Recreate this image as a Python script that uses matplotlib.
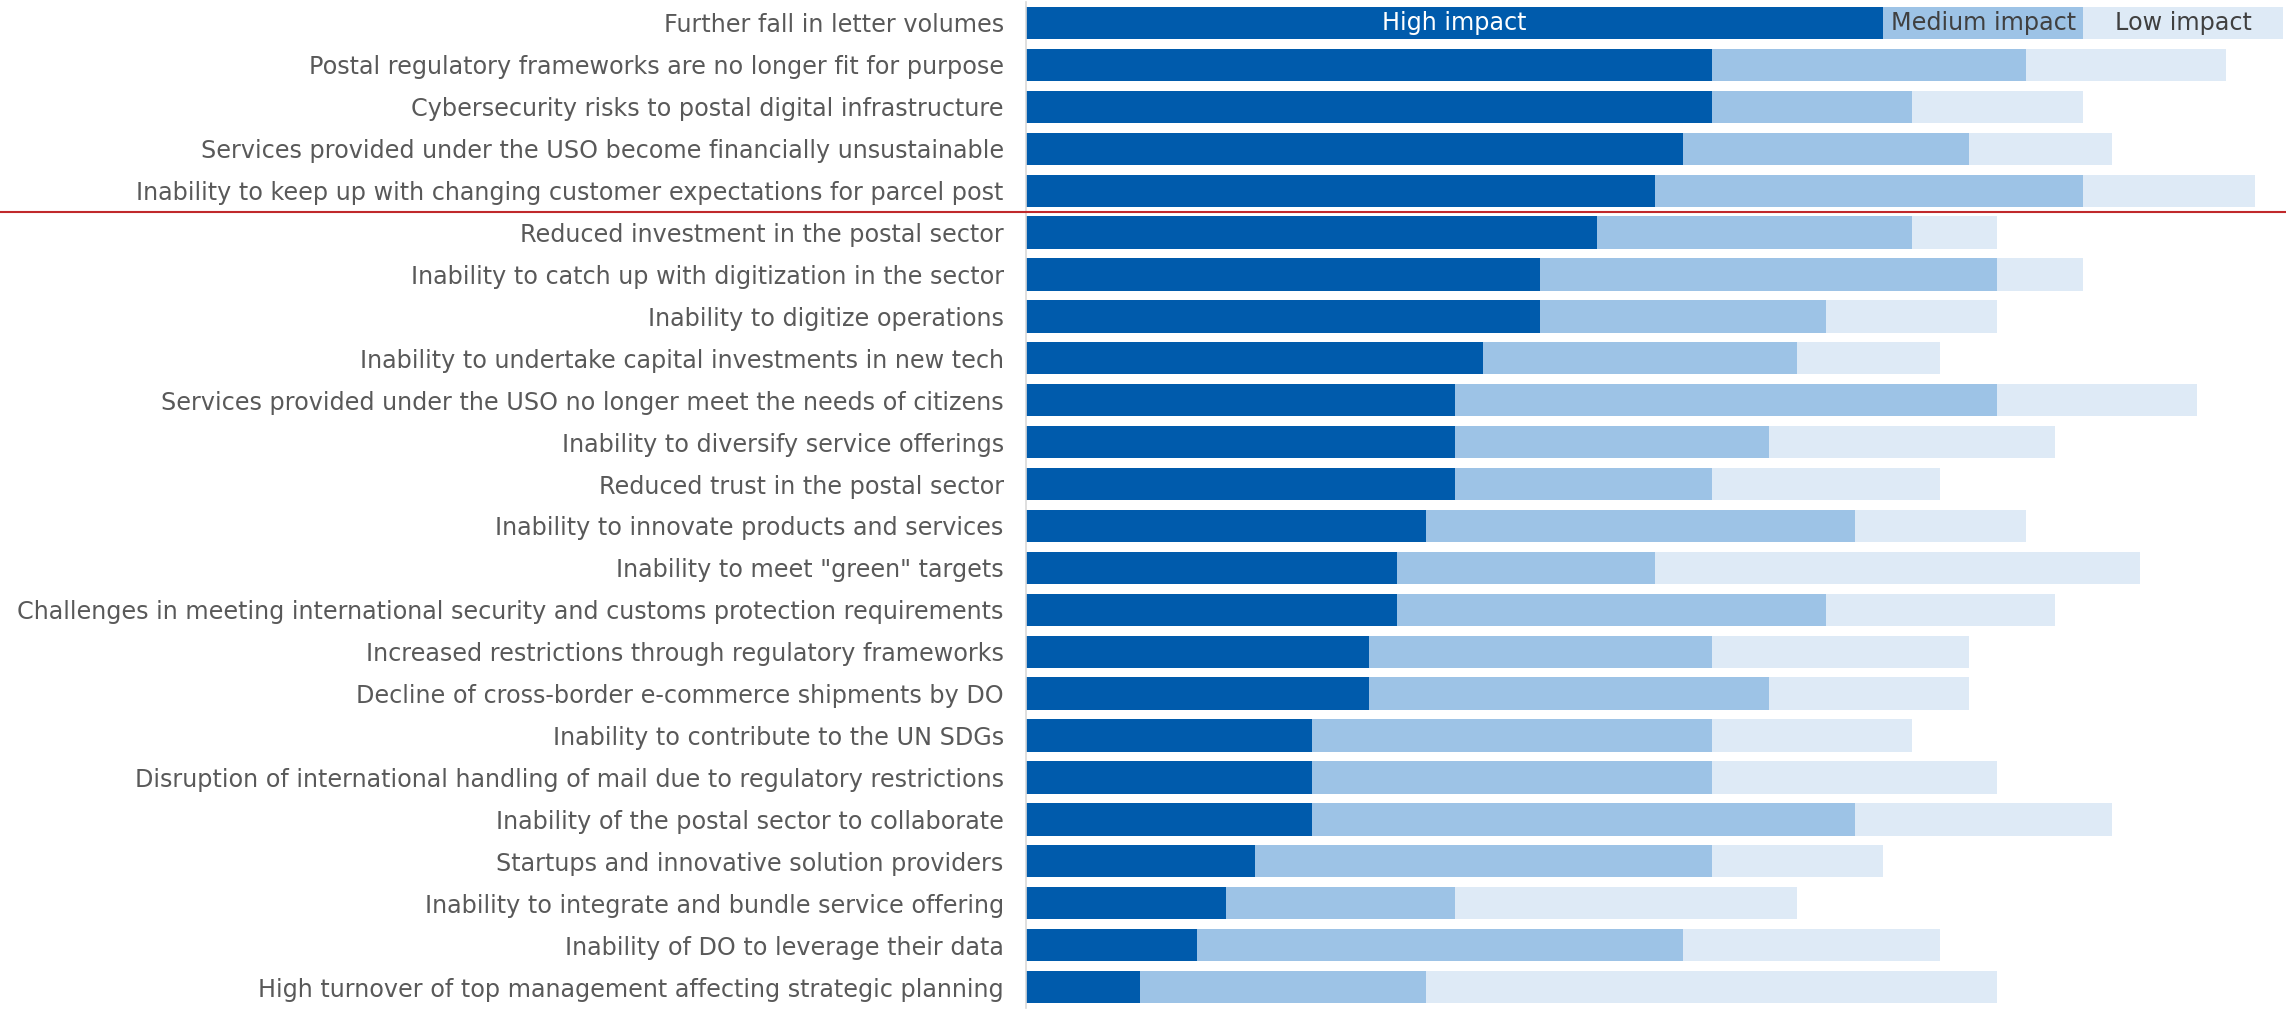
import matplotlib
matplotlib.use('Agg')
import matplotlib.pyplot as plt
from matplotlib.lines import Line2D
from matplotlib.transforms import blended_transform_factory
import numpy as np

# Survey counts per risk
risks = [
    'Further fall in letter volumes',
    'Postal regulatory frameworks are no longer fit for purpose',
    'Cybersecurity risks to postal digital infrastructure',
    'Services provided under the USO become financially unsustainable',
    'Inability to keep up with changing customer expectations for parcel post',
    'Reduced investment in the postal sector',
    'Inability to catch up with digitization in the sector',
    'Inability to digitize operations',
    'Inability to undertake capital investments in new tech',
    'Services provided under the USO no longer meet the needs of citizens',
    'Inability to diversify service offerings',
    'Reduced trust in the postal sector',
    'Inability to innovate products and services',
    'Inability to meet "green" targets',
    'Challenges in meeting international security and customs protection requirements',
    'Increased restrictions through regulatory frameworks',
    'Decline of cross-border e-commerce shipments by DO',
    'Inability to contribute to the UN SDGs',
    'Disruption of international handling of mail due to regulatory restrictions',
    'Inability of the postal sector to collaborate',
    'Startups and innovative solution providers',
    'Inability to integrate and bundle service offering',
    'Inability of DO to leverage their data',
    'High turnover of top management affecting strategic planning',
]
high = [30, 24, 24, 23, 22, 20, 18, 18, 16, 15, 15, 15, 14, 13, 13, 12, 12, 10, 10, 10, 8, 7, 6, 4]
medium = [7, 11, 7, 10, 15, 11, 16, 10, 11, 19, 11, 9, 15, 9, 15, 12, 14, 14, 14, 19, 16, 8, 17, 10]
low = [7, 7, 6, 5, 6, 3, 3, 6, 5, 7, 10, 8, 6, 17, 8, 9, 7, 7, 10, 9, 6, 12, 9, 20]
series_names = ['High impact', 'Medium impact', 'Low impact']


def run():
    colors = ['#005bac', '#9dc3e6', '#deeaf6']
    text_colors = ['white', '#404040', '#404040']

    fig = plt.figure(figsize=(22.86, 10.09), dpi=100)
    ax = fig.add_axes([0.4488, 0.001, 0.5512, 0.997])

    y = np.arange(len(risks))
    left = np.zeros(len(risks))
    for vals, col, name, tc in zip([high, medium, low], colors, series_names, text_colors):
        vals = np.array(vals)
        ax.barh(y, vals, left=left, height=0.77, color=col, edgecolor='none')
        # segment label inside the first bar
        ax.text(left[0] + vals[0] / 2, y[0], name, ha='center', va='center',
                color=tc, fontsize=17.2)
        left = left + vals

    ax.set_xlim(0, 44.1)
    ax.set_ylim(len(risks) - 0.5, -0.5)
    ax.set_yticks(y)
    ax.set_yticklabels(risks, fontsize=17.2, color='#595959')
    ax.tick_params(axis='y', length=0, pad=16)
    ax.set_xticks([])

    for s in ['top', 'right', 'bottom']:
        ax.spines[s].set_visible(False)
    ax.spines['left'].set_color('#d9d9d9')
    ax.spines['left'].set_linewidth(1.2)

    # red separator after the top five risks, across the whole figure
    trans = blended_transform_factory(fig.transFigure, ax.transData)
    fig.add_artist(Line2D([0, 1], [4.5, 4.5], transform=trans,
                          color='#c0292b', linewidth=1.5))

    fig.savefig('out.png', dpi=100)


if __name__ == '__main__':
    run()
